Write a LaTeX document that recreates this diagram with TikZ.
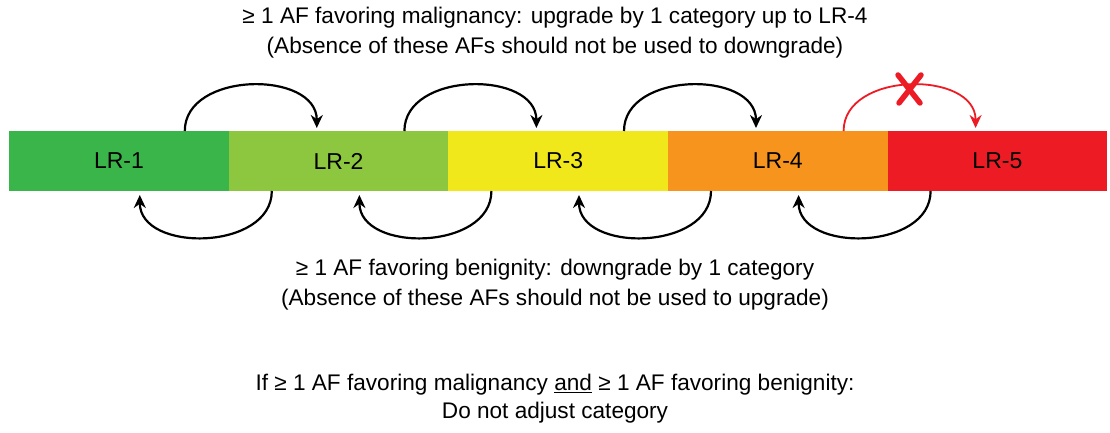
\documentclass[tikz,border=0pt]{standalone}
\usepackage{fontspec}
\setmainfont{Liberation Sans}
\usetikzlibrary{arrows.meta,calc}
\definecolor{cA}{HTML}{39B54A}
\definecolor{cB}{HTML}{8DC63F}
\definecolor{cC}{HTML}{F0E81A}
\definecolor{cD}{HTML}{F7941D}
\definecolor{cE}{HTML}{ED1C24}
\tikzset{
  seg/.style={minimum width=219.6pt, minimum height=60pt, inner sep=0pt, outer sep=0pt, font=\fontsize{23}{26}\selectfont},
  txt/.style={align=center, font=\fontsize{22.6}{30}\selectfont, inner sep=0pt},
  arr/.style={line width=2.2pt, -{Stealth[length=13pt,width=12pt]}},
  redarr/.style={arr, draw=cE, line width=1.8pt},
}
\begin{document}
\begin{tikzpicture}[x=1pt,y=1pt]
\useasboundingbox (0,0) rectangle (1110,433);
\fill[white] (0,0) rectangle (1110,433);
\node[seg, fill=cA] (s1) at (119,272) {LR-1};
\node[seg, fill=cB] (s2) at (338.6,272) {LR-2};
\node[seg, fill=cC] (s3) at (558.2,272) {LR-3};
\node[seg, fill=cD] (s4) at (777.8,272) {LR-4};
\node[seg, fill=cE] (s5) at (997.4,272) {LR-5};
% upper arrows
\foreach \a/\b in {s1/s2, s2/s3, s3/s4}{
  \draw[arr] ([xshift=-44pt]\a.north east) .. controls +(0,60) and +(0,58) .. ([xshift=88pt,yshift=3pt]\a.north east);
}
\draw[redarr] ([xshift=-44pt]s4.north east) .. controls +(0,60) and +(0,58) .. ([xshift=88pt,yshift=3pt]s4.north east);
% red X
\coordinate (xc) at (909,344);
\draw[cE, line width=5.5pt, line cap=round] ($(xc)+(-11,14)$) -- ($(xc)+(11,-14)$);
\draw[cE, line width=5.5pt, line cap=round] ($(xc)+(12,14)$) -- ($(xc)+(-10,-14)$);
% lower arrows
\foreach \a/\b in {s2/s1, s3/s2, s4/s3, s5/s4}{
  \draw[arr] ([xshift=43pt]\a.south west) .. controls +(0,-60) and +(0,-58) .. ([xshift=-89pt,yshift=-4pt]\a.south west);
}
% texts
\node[txt] (t1) at (555,400) {≥ 1 AF favoring malignancy: upgrade by 1 category up to LR-4\\(Absence of these AFs should not be used to downgrade)};
\node[txt] (t2) at (555,148) {≥ 1 AF favoring benignity: downgrade by 1 category\\(Absence of these AFs should not be used to upgrade)};
\node[txt, font=\fontsize{22.6}{28}\selectfont] (t3) at (555,34) {If ≥ 1 AF favoring malignancy \underline{and} ≥ 1 AF favoring benignity:\\Do not adjust category};
\end{tikzpicture}
\end{document}
